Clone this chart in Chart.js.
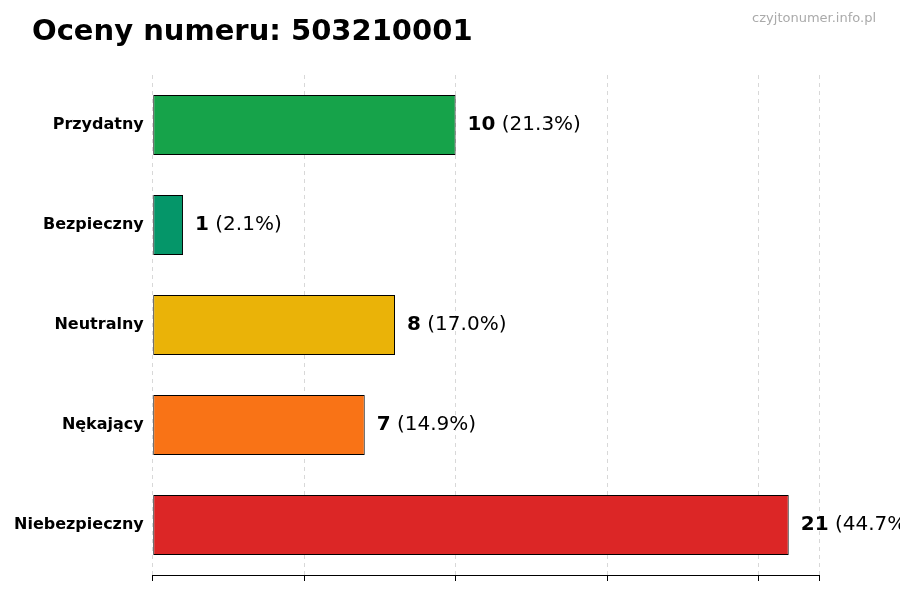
<!DOCTYPE html>
<html><head><meta charset="utf-8">
<script src="https://cdn.jsdelivr.net/npm/chart.js@4"></script>
<style>body{margin:0;background:#fff}#w{position:relative;width:900px;height:600px}</style>
</head><body><div id="w"><canvas id="c" width="900" height="600"></canvas></div>
<script>
const categories = ["Przydatny","Bezpieczny","Neutralny","Nękający","Niebezpieczny"];
const counts = [10,1,8,7,21];
const percents = ["21.3%","2.1%","17.0%","14.9%","44.7%"];
const colors = ["#16a34a","#059669","#eab308","#f97316","#dc2626"];
const titleText = "Oceny numeru: 503210001";
const watermark = "czyjtonumer.info.pl";

const deco = {
  id:'deco',
  afterDraw(chart){
    const ctx=chart.ctx;
    ctx.save();
    ctx.fillStyle='#000';ctx.font='bold 29px "DejaVu Sans"';ctx.textBaseline='alphabetic';ctx.textAlign='left';
    ctx.fillText(titleText,32,40);
    ctx.fillStyle='#aaa';ctx.font='13px "DejaVu Sans"';ctx.textAlign='right';
    ctx.fillText(watermark,876,22);
    const meta=chart.getDatasetMeta(0);
    ctx.textAlign='left';ctx.textBaseline='middle';
    meta.data.forEach((b,i)=>{
      let x=b.x+12;
      ctx.fillStyle='#000';
      ctx.font='bold 20px "DejaVu Sans"';
      const n=String(counts[i]);ctx.fillText(n,x,b.y);
      x+=ctx.measureText(n).width;
      ctx.font='20px "DejaVu Sans"';
      ctx.fillText(' ('+percents[i]+')',x,b.y);
    });
    ctx.restore();
  }
};
new Chart(document.getElementById('c'),{
  type:'bar',
  data:{labels:categories,datasets:[{data:counts,backgroundColor:colors,borderColor:'#000',borderWidth:1,borderSkipped:false,barPercentage:0.6,categoryPercentage:1}]},
  options:{
    indexAxis:'y',responsive:false,animation:false,
    layout:{padding:{left:10,top:75,right:81,bottom:19}},
    plugins:{legend:{display:false},tooltip:{enabled:false}},
    scales:{
      x:{min:0,max:22,ticks:{stepSize:5,display:false},
         grid:{color:'#d8d8d8',tickColor:'#000',tickLength:6,drawTicks:true},
         border:{display:true,color:'#000',dash:[4,4]}},
      y:{ticks:{color:'#000',font:{family:'DejaVu Sans',size:16,weight:'bold'},padding:4},
         grid:{display:false,drawTicks:true,tickColor:'#000',tickLength:5},
         border:{display:false}}
    }
  },
  plugins:[deco]
});
</script></body></html>
